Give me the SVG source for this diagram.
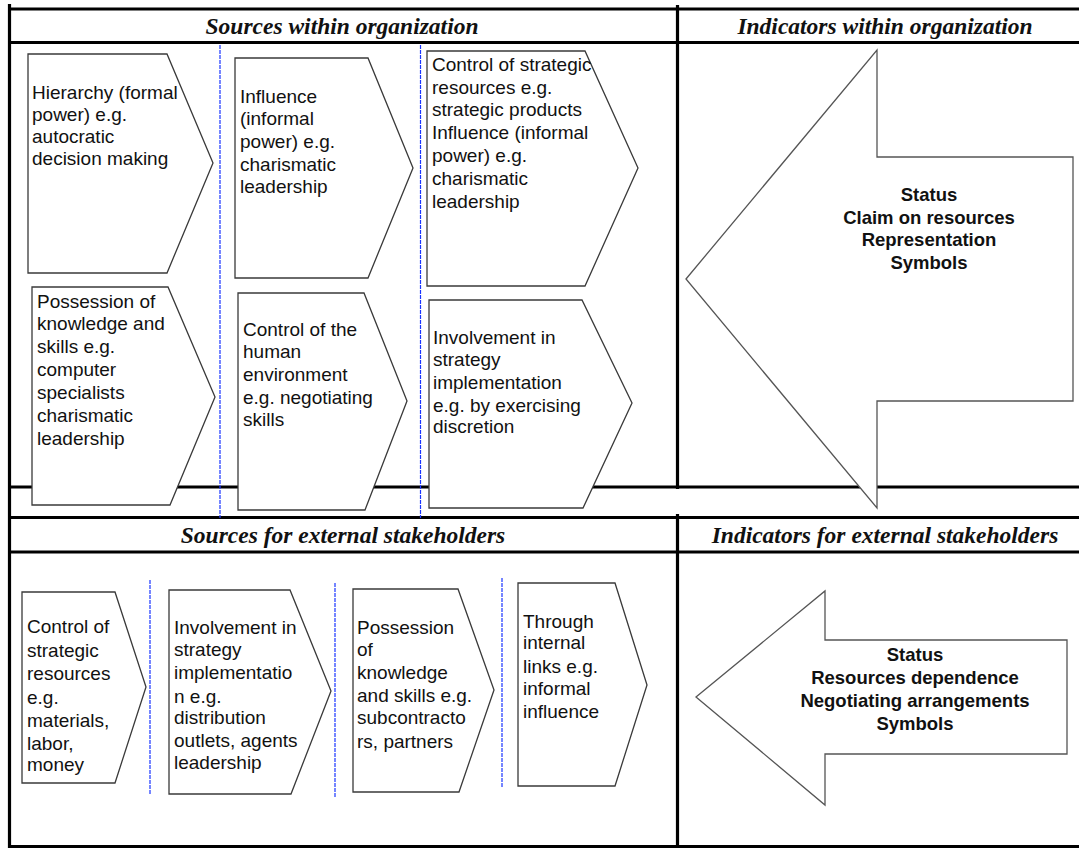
<svg xmlns="http://www.w3.org/2000/svg" width="1079" height="848" viewBox="0 0 1079 848">
<style>
.grid{stroke:#000;stroke-width:3.2;fill:none}
.sep{stroke:#1a35ff;stroke-width:1.2;stroke-dasharray:4 1;fill:none}
.chev{fill:#fff;stroke:#3a3a3a;stroke-width:1.3;stroke-linejoin:miter}
.arrow{fill:#fff;stroke:#555;stroke-width:1.3}
.t{font-family:"Liberation Sans",Arial,sans-serif;font-size:19px;fill:#111}
.b{font-family:"Liberation Sans",Arial,sans-serif;font-size:18.5px;font-weight:bold;fill:#111;text-anchor:middle}
.h{font-family:"Liberation Serif","Times New Roman",serif;font-size:23.5px;font-weight:bold;font-style:italic;fill:#111;text-anchor:middle}
</style>
<rect width="1079" height="848" fill="#fff"/>
<g id="grid" class="grid">
<line x1="9.5" y1="4" x2="9.5" y2="848"/>
<line x1="677.5" y1="5" x2="677.5" y2="489"/>
<line x1="677.5" y1="514" x2="677.5" y2="848"/>
<line x1="8" y1="9" x2="1079" y2="9"/>
<line x1="8" y1="42.5" x2="1079" y2="42.5"/>
<line x1="8" y1="487" x2="1079" y2="487"/>
<line x1="8" y1="517.5" x2="1079" y2="517.5"/>
<line x1="8" y1="552" x2="1079" y2="552"/>
<line x1="8" y1="846.5" x2="1079" y2="846.5"/>
</g>
<g id="headers">
<text class="h" x="342" y="34">Sources within organization</text>
<text class="h" x="885" y="34">Indicators within organization</text>
<text class="h" x="343" y="543">Sources for external stakeholders</text>
<text class="h" x="885" y="543">Indicators for external stakeholders</text>
</g>
<g id="connectors">
<line class="sep" x1="220" y1="45" x2="220" y2="518"/>
<line class="sep" x1="420.5" y1="45" x2="420.5" y2="518"/>
<line class="sep" x1="150" y1="580" x2="150" y2="795"/>
<line class="sep" x1="335" y1="583" x2="335" y2="798"/>
<line class="sep" x1="502" y1="578" x2="502" y2="788"/>
</g>
<g id="hierarchy">
<path class="chev" d="M28,54 H167 L213,163 L167,273 H28 Z"/>
<text class="t"><tspan x="32" y="99">Hierarchy (formal</tspan><tspan x="32" y="121">power) e.g.</tspan><tspan x="32" y="143">autocratic</tspan><tspan x="32" y="165">decision making</tspan></text>
</g>
<g id="influence">
<path class="chev" d="M235,58 H368 L413,168 L368,278 H235 Z"/>
<text class="t"><tspan x="240" y="103">Influence</tspan><tspan x="240" y="125">(informal</tspan><tspan x="240" y="148">power) e.g.</tspan><tspan x="240" y="171">charismatic</tspan><tspan x="240" y="193">leadership</tspan></text>
</g>
<g id="control-strategic">
<path class="chev" d="M427,51 H585 L638,168 L585,286 H427 Z"/>
<text class="t"><tspan x="432" y="71">Control of strategic</tspan><tspan x="432" y="94">resources e.g.</tspan><tspan x="432" y="116">strategic products</tspan><tspan x="432" y="139">Influence (informal</tspan><tspan x="432" y="162">power) e.g.</tspan><tspan x="432" y="185">charismatic</tspan><tspan x="432" y="208">leadership</tspan></text>
</g>
<g id="possession">
<path class="chev" d="M32,287 H168 L215,397 L170,505 H32 Z"/>
<text class="t"><tspan x="37" y="308">Possession of</tspan><tspan x="37" y="330">knowledge and</tspan><tspan x="37" y="353">skills e.g.</tspan><tspan x="37" y="376">computer</tspan><tspan x="37" y="399">specialists</tspan><tspan x="37" y="422">charismatic</tspan><tspan x="37" y="445">leadership</tspan></text>
</g>
<g id="control-human">
<path class="chev" d="M238,293 H364 L407,401 L365,510 H238 Z"/>
<text class="t"><tspan x="243" y="336">Control of the</tspan><tspan x="243" y="358">human</tspan><tspan x="243" y="381">environment</tspan><tspan x="243" y="404">e.g. negotiating</tspan><tspan x="243" y="426">skills</tspan></text>
</g>
<g id="involvement">
<path class="chev" d="M429,300 H582 L632,403 L583,508 H429 Z"/>
<text class="t"><tspan x="433" y="344">Involvement in</tspan><tspan x="433" y="366">strategy</tspan><tspan x="433" y="389">implementation</tspan><tspan x="433" y="412">e.g. by exercising</tspan><tspan x="433" y="433">discretion</tspan></text>
</g>
<g id="indicators-internal">
<path class="arrow" d="M686,279 L877,50 V157 H1073 V401 H877 V508 Z"/>
<text class="b"><tspan x="929" y="201">Status</tspan><tspan x="929" y="224">Claim on resources</tspan><tspan x="929" y="246">Representation</tspan><tspan x="929" y="269">Symbols</tspan></text>
</g>
<g id="ext-control">
<path class="chev" d="M22,592 H115 L146,687 L115,783 H22 Z"/>
<text class="t"><tspan x="27" y="633">Control of</tspan><tspan x="27" y="657">strategic</tspan><tspan x="27" y="680">resources</tspan><tspan x="27" y="704">e.g.</tspan><tspan x="27" y="727">materials,</tspan><tspan x="27" y="750">labor,</tspan><tspan x="27" y="771">money</tspan></text>
</g>
<g id="ext-involvement">
<path class="chev" d="M169,590 H290 L331,691 L291,794 H169 Z"/>
<text class="t"><tspan x="174" y="634">Involvement in</tspan><tspan x="174" y="656">strategy</tspan><tspan x="174" y="679">implementatio</tspan><tspan x="174" y="703">n e.g.</tspan><tspan x="174" y="724">distribution</tspan><tspan x="174" y="747">outlets, agents</tspan><tspan x="174" y="769">leadership</tspan></text>
</g>
<g id="ext-possession">
<path class="chev" d="M353,589 H458 L494,690 L459,792 H353 Z"/>
<text class="t"><tspan x="357" y="634">Possession</tspan><tspan x="357" y="656">of</tspan><tspan x="357" y="679">knowledge</tspan><tspan x="357" y="702">and skills e.g.</tspan><tspan x="357" y="724">subcontracto</tspan><tspan x="357" y="748">rs, partners</tspan></text>
</g>
<g id="ext-links">
<path class="chev" d="M518,583 H615 L647,685 L615,786 H518 Z"/>
<text class="t"><tspan x="523" y="628">Through</tspan><tspan x="523" y="649">internal</tspan><tspan x="523" y="673">links e.g.</tspan><tspan x="523" y="695">informal</tspan><tspan x="523" y="718">influence</tspan></text>
</g>
<g id="indicators-external">
<path class="arrow" d="M696,697 L825,591 V640 H1067 V754 H825 V805 Z"/>
<text class="b"><tspan x="915" y="661">Status</tspan><tspan x="915" y="684">Resources dependence</tspan><tspan x="915" y="707">Negotiating arrangements</tspan><tspan x="915" y="730">Symbols</tspan></text>
</g>
</svg>
